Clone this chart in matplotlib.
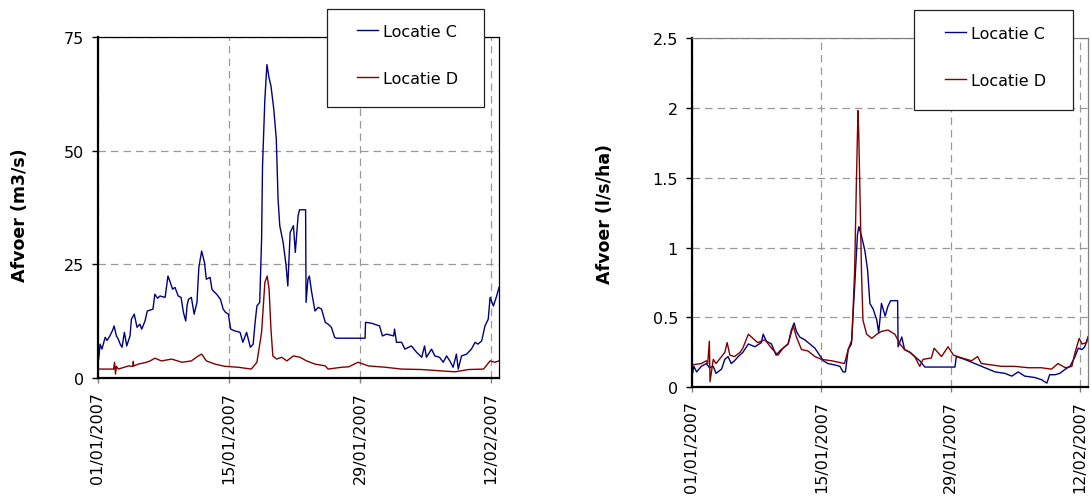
import datetime as dt

import matplotlib
matplotlib.use('Agg')
import matplotlib.dates as mdates
import matplotlib.pyplot as plt
from matplotlib.patches import Rectangle
from matplotlib.ticker import FuncFormatter

## Start of the record; all times below are in days since this moment.
START = dt.datetime(2007, 1, 1)
X_END = 42.85
TICK_DAYS = [0, 14, 28, 42]

## Discharge, m3/s
c_m3_days = [0.0, 0.1, 0.25, 0.45, 0.8, 1.0, 1.3, 1.6, 1.75, 2.0, 2.2, 2.4, 2.6,
             2.85, 3.1, 3.45, 3.6, 3.9, 4.2, 4.5, 4.7, 5.05, 5.3, 5.9, 6.1, 6.4,
             6.65, 7.2, 7.5, 7.7, 8.0, 8.25, 8.6, 8.9, 9.15, 9.4, 9.55, 9.7, 10.0,
             10.3, 10.6, 10.8, 11.1, 11.4, 11.6, 12.0, 12.2, 12.35, 12.7, 13.1,
             13.4, 13.65, 13.95, 14.2, 14.65, 15.2, 15.5, 15.9, 16.3, 16.6, 16.8,
             17.0, 17.3, 17.5, 17.6, 17.85, 18.07, 18.3, 18.5, 18.8, 19.07, 19.26,
             19.44, 19.8, 20.1, 20.3, 20.55, 20.9, 21.1, 21.4, 21.55, 22.2, 22.25,
             22.45, 22.6, 22.85, 23.2, 23.55, 23.9, 24.3, 24.6, 24.95, 25.3, 25.5,
             28.55, 28.6, 29.25, 30.1, 30.4, 30.85, 31.6, 31.7, 31.9, 32.45, 32.8,
             33.5, 34.05, 34.6, 34.9, 35.1, 35.65, 36.0, 36.5, 36.9, 37.25, 37.6,
             37.95, 38.3, 38.5, 38.85, 39.4, 39.9, 40.3, 40.6, 41.0, 41.35, 41.7,
             41.9, 42.25, 42.6, 42.85]
c_m3 = [7.0, 4.0, 7.4, 6.3, 8.9, 8.2, 9.2, 10.5, 11.4, 9.2, 8.5, 7.4, 6.7,
        10.0, 7.0, 9.2, 12.9, 14.0, 11.1, 11.8, 10.7, 12.5, 14.7, 15.1, 18.4, 17.5,
        18.0, 17.7, 22.4, 21.3, 19.5, 19.9, 18.0, 17.7, 14.4, 12.5, 16.0, 17.3, 17.7,
        14.0, 16.6, 24.3, 27.9, 25.4, 21.7, 22.1, 19.5, 19.1, 18.4, 17.3,
        15.1, 14.4, 14.0, 10.7, 10.3, 10.0, 7.8, 10.0, 6.7, 7.4, 12.0,
        15.8, 16.6, 30.5, 46.7, 61.4, 69.0, 66.0, 64.3, 59.2, 52.6, 39.3,
        33.5, 29.8, 25.0, 20.2, 32.0, 33.5, 27.6, 35.7, 37.0, 37.0, 16.6,
        21.7, 22.4, 18.8, 14.7, 15.5, 15.1, 12.2, 11.8, 11.1, 8.9, 8.7,
        8.7, 12.2, 12.0, 11.4, 9.2, 9.6, 9.2, 10.7, 7.8, 7.8, 6.3,
        7.0, 5.6, 4.5, 7.0, 4.5, 6.3, 4.8, 4.5, 3.4, 4.8, 3.7,
        2.3, 5.2, 1.9, 4.8, 5.2, 6.3, 7.8, 7.4, 8.1, 11.4, 12.9,
        17.7, 15.8, 18.0, 19.9]

d_m3_days = [0.0, 1.7, 1.8, 1.9, 2.0, 2.2, 3.3, 3.75, 3.8, 3.85, 4.35, 5.2, 5.6,
             6.1, 6.8, 7.9, 9.0, 10.0, 10.75, 11.1, 11.6, 12.5, 13.6, 15.0, 16.4,
             17.0, 17.5, 17.85, 18.1, 18.3, 18.5, 18.7, 19.1, 19.65, 20.2, 20.9,
             21.6, 22.3, 23.2, 24.3, 24.6, 26.05, 26.8, 27.8, 28.9, 30.7, 32.45,
             34.6, 36.7, 38.15, 39.6, 41.2, 41.9, 42.4, 42.85]
d_m3 = [1.9, 1.9, 3.4, 0.8, 2.5, 1.9, 2.6, 2.5, 3.6, 2.6, 3.0, 3.4, 3.7,
        4.3, 3.7, 4.1, 3.4, 3.7, 4.8, 5.2, 3.7, 3.0, 2.5, 2.3, 1.9,
        3.4, 10.0, 21.0, 22.4, 19.5, 10.7, 4.8, 4.1, 4.5, 3.7, 4.8,
        4.5, 3.7, 3.0, 2.6, 1.9, 2.3, 2.4, 3.4, 2.6, 2.3, 1.9,
        1.8, 1.5, 1.3, 1.8, 1.9, 3.7, 3.4, 3.7]

## Specific discharge, l/s/ha
c_spec_days = [0.0, 0.2, 0.5, 1.0, 1.55, 1.9, 2.3, 2.6, 3.2, 3.55, 3.9, 4.25, 4.6,
               5.0, 5.5, 6.1, 6.8, 7.5, 7.7, 8.05, 8.6, 9.1, 9.5, 9.85, 10.4,
               10.75, 11.05, 11.3, 11.65, 12.2, 12.75, 13.3, 13.8, 14.2, 14.7,
               15.45, 16.0, 16.35, 16.6, 16.9, 17.25, 17.6, 17.9, 18.05, 18.35,
               18.7, 19.0, 19.25, 19.6, 20.0, 20.2, 20.5, 20.9, 21.2, 21.5, 22.25,
               22.3, 22.7, 23.0, 23.6, 24.1, 24.65, 25.2, 28.45, 28.6, 29.5, 30.6,
               31.7, 32.8, 33.85, 34.6, 35.3, 36.0, 37.1, 37.8, 38.4, 38.7, 39.3,
               39.8, 40.4, 40.9, 41.45, 41.8, 42.2, 42.5, 42.85]
c_spec = [0.08, 0.15, 0.11, 0.15, 0.17, 0.14, 0.15, 0.10, 0.13, 0.20, 0.22, 0.17, 0.19,
          0.22, 0.25, 0.31, 0.29, 0.32, 0.38, 0.33, 0.31, 0.23, 0.26, 0.28, 0.31,
          0.41, 0.46, 0.40, 0.36, 0.34, 0.31, 0.28, 0.23, 0.19, 0.17,
          0.16, 0.15, 0.11, 0.11, 0.27, 0.31, 0.72, 1.09, 1.15, 1.08,
          0.98, 0.84, 0.60, 0.56, 0.48, 0.39, 0.60, 0.51, 0.58, 0.62, 0.62,
          0.29, 0.36, 0.27, 0.25, 0.22, 0.19, 0.145, 0.145, 0.22, 0.20, 0.17,
          0.14, 0.11, 0.10, 0.08, 0.11, 0.08, 0.07, 0.055, 0.03, 0.09, 0.09,
          0.10, 0.13, 0.15, 0.22, 0.28, 0.27, 0.29, 0.36]

d_spec_days = [0.0, 1.0, 1.55, 1.7, 1.88, 1.95, 2.3, 2.6, 3.2, 3.55, 3.8, 4.1, 4.6,
               5.2, 5.5, 6.1, 6.6, 7.1, 7.9, 8.6, 9.3, 9.85, 10.4, 10.95, 11.3,
               11.85, 12.55, 13.3, 14.0, 15.1, 16.5, 16.9, 17.3, 17.6, 17.8, 17.96,
               18.05, 18.2, 18.35, 18.5, 18.9, 19.45, 20.0, 20.5, 21.2, 21.95,
               22.5, 23.0, 23.6, 24.1, 24.65, 25.0, 25.9, 26.2, 27.0, 27.7, 28.3,
               29.2, 30.25, 30.9, 31.3, 32.4, 33.5, 34.9, 36.4, 37.8, 38.9, 39.6,
               40.4, 41.1, 41.45, 41.9, 42.2, 42.7, 42.85]
d_spec = [0.16, 0.17, 0.19, 0.17, 0.33, 0.04, 0.20, 0.17, 0.22, 0.25, 0.32, 0.23, 0.22,
          0.25, 0.28, 0.38, 0.35, 0.32, 0.34, 0.28, 0.23, 0.28, 0.31, 0.44, 0.36,
          0.27, 0.26, 0.22, 0.20, 0.19, 0.17, 0.27, 0.34, 0.84, 1.5, 1.98,
          1.8, 1.3, 0.8, 0.48, 0.38, 0.35, 0.38, 0.40, 0.41, 0.38,
          0.31, 0.27, 0.25, 0.22, 0.15, 0.20, 0.21, 0.28, 0.22, 0.29, 0.23,
          0.21, 0.19, 0.22, 0.17, 0.16, 0.15, 0.15, 0.14, 0.14, 0.13, 0.17,
          0.14, 0.15, 0.25, 0.35, 0.31, 0.32, 0.36]

labels = ['Locatie C', 'Locatie D']
colors = ['#000080', '#800000']
FONT = 11.5


## Turns a list of day offsets into datetimes for the date axis.
def to_dates(days):
  return [START + dt.timedelta(days=d) for d in days]


## Applies the spreadsheet-like look to one axes.
def style_axes(ax, ymax, ystep, ylabel, label_x, label_y, frame_color):
  ax.set_xlim(to_dates([0, X_END]))
  ax.set_ylim(0, ymax)
  ax.set_xticks(to_dates(TICK_DAYS))
  ax.xaxis.set_major_formatter(mdates.DateFormatter('%d/%m/%Y'))
  ax.set_yticks([i * ystep for i in range(int(round(ymax / ystep)) + 1)])
  ax.yaxis.set_major_formatter(FuncFormatter(lambda v, p: '%g' % v))
  ax.grid(True, color='#999999', linestyle=(0, (6, 4)), linewidth=0.9)
  ax.set_axisbelow(True)

  for side in ['left', 'bottom']:
    ax.spines[side].set_color('black')
    ax.spines[side].set_linewidth(1.6)
  for side in ['top', 'right']:
    ax.spines[side].set_color(frame_color)
    ax.spines[side].set_linewidth(0.9)

  ax.tick_params(axis='y', direction='out', length=4.3, width=1.0,
                 color='black', pad=5.8, labelsize=FONT)
  ax.tick_params(axis='x', direction='out', length=3.5, width=1.0,
                 color='#808080', pad=6, labelsize=FONT, labelrotation=90)

  ax.set_ylabel(ylabel, fontsize=12.5, fontweight='bold')
  ax.yaxis.set_label_coords(label_x, label_y)


## Draws the legend frame and the entries above the axes.
def add_legend(fig, ax, box, anchor):
  fig.patches.append(Rectangle(box[:2], box[2], box[3],
                               transform=fig.transFigure,
                               facecolor='white', edgecolor='#222222',
                               linewidth=0.9, zorder=3))
  handles, texts = ax.get_legend_handles_labels()
  leg = fig.legend(handles, texts, loc='upper left', bbox_to_anchor=anchor,
                   frameon=False, fontsize=FONT, borderpad=0, borderaxespad=0,
                   handlelength=1.3, handletextpad=0.35, labelspacing=2.0)
  leg.set_zorder(4)


def main():
  W, H = 1091, 502
  fig = plt.figure(figsize=(W / 100, H / 100), dpi=100)

  ax1 = fig.add_axes([97.7 / W, 1 - 378.7 / H, 401.3 / W, 340.4 / H])
  ax2 = fig.add_axes([692 / W, 1 - 388.3 / H, 396 / W, 349.3 / H])

  ax1.plot(to_dates(c_m3_days), c_m3, color=colors[0], lw=1.0, label=labels[0])
  ax1.plot(to_dates(d_m3_days), d_m3, color=colors[1], lw=1.0, label=labels[1])
  ax2.plot(to_dates(c_spec_days), c_spec, color=colors[0], lw=1.0, label=labels[0])
  ax2.plot(to_dates(d_spec_days), d_spec, color=colors[1], lw=1.0, label=labels[1])

  style_axes(ax1, 75, 25, 'Afvoer (m3/s)', -0.172, 0.48, 'black')
  style_axes(ax2, 2.5, 0.5, 'Afvoer (l/s/ha)', -0.196, 0.50, '#808080')

  add_legend(fig, ax1, (327 / W, 1 - 108 / H, 157 / W, 98 / H),
             (357 / W, 1 - 25 / H))
  add_legend(fig, ax2, (914 / W, 1 - 111 / H, 159 / W, 100 / H),
             (945 / W, 1 - 27 / H))

  fig.savefig('out.png', dpi=100)


if __name__ == '__main__':
  main()
